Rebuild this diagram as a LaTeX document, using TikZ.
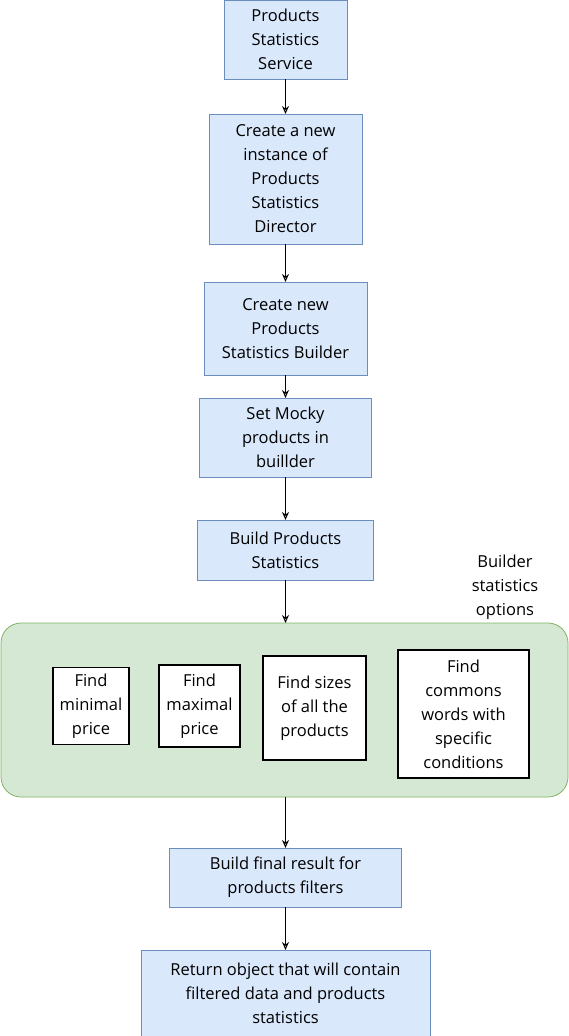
\documentclass[tikz,border=0pt]{standalone}
\usepackage{fontspec}
\setmainfont{Open Sans}
\usepackage{xcolor}
\usetikzlibrary{arrows.meta, positioning}

\definecolor{stepfill}{HTML}{DAE8FC}
\definecolor{stepline}{HTML}{6C8EBF}
\definecolor{groupfill}{HTML}{D5E8D4}
\definecolor{groupline}{HTML}{82B366}

\begin{document}
\begin{tikzpicture}[
  x=1pt, y=1pt,
  font=\fontsize{16.5}{24}\selectfont,
  stepbox/.style={rectangle, draw=stepline, fill=stepfill, line width=0.8pt, outer sep=0pt, align=center, inner sep=2pt},
  group/.style={rectangle, rounded corners=20pt, draw=groupline, fill=groupfill, line width=0.8pt, outer sep=0pt, minimum width=567pt, minimum height=174pt},
  option/.style={rectangle, draw=black, fill=white, line width=1.6pt, outer sep=0pt, align=center, inner sep=2pt},
  arrow/.style={-{Stealth[open, length=8pt, width=7pt]}, line width=1pt, black}
]
\useasboundingbox (0,0) rectangle (568,-1036);

\node[stepbox, minimum width=123pt, minimum height=79pt] (service) at (285.5,-39.5) {Products\\Statistics\\Service};
\node[stepbox, minimum width=153pt, minimum height=130pt, below=35pt of service] (director) {Create a new\\instance of\\Products\\Statistics\\Director};
\node[stepbox, minimum width=163pt, minimum height=93pt, below=38pt of director] (builder) {Create new\\Products\\Statistics Builder};
\node[stepbox, minimum width=172pt, minimum height=79pt, below=23pt of builder] (mocky) {Set Mocky\\products in\\buillder};
\node[stepbox, minimum width=176pt, minimum height=60pt, below=43pt of mocky] (stats) {Build Products\\Statistics};
\node[group, below=43pt of stats, xshift=-1pt] (opts) {};
\node[align=center] (optlabel) at ([xshift=-63pt, yshift=36pt]opts.north east) {Builder\\statistics\\options};

\node[option, minimum width=76pt, minimum height=77pt, right=52pt of opts.west, yshift=4pt] (minprice) {Find\\minimal\\price};
\node[option, minimum width=81pt, minimum height=82pt, right=30pt of minprice] (maxprice) {Find\\maximal\\price};
\node[option, minimum width=103pt, minimum height=104pt, right=23pt of maxprice, yshift=-2pt] (sizes) {Find sizes\\of all the\\products};
\node[option, minimum width=131pt, minimum height=128pt, right=32pt of sizes, yshift=-6pt] (words) {Find\\commons\\words with\\specific\\conditions};

\node[stepbox, minimum width=232pt, minimum height=59pt, below=51pt of opts, xshift=1pt] (final) {Build final result for\\products filters};
\node[stepbox, minimum width=289pt, minimum height=86pt, below=43pt of final] (result) {Return object that will contain\\filtered data and products\\statistics};

\draw[arrow] (service) -- (director);
\draw[arrow] (director) -- (builder);
\draw[arrow] (builder) -- (mocky);
\draw[arrow] (mocky) -- (stats);
\draw[arrow] (stats) -- (stats.south |- opts.north);
\draw[arrow] (final.north |- opts.south) -- (final);
\draw[arrow] (final) -- (result);
\end{tikzpicture}
\end{document}
